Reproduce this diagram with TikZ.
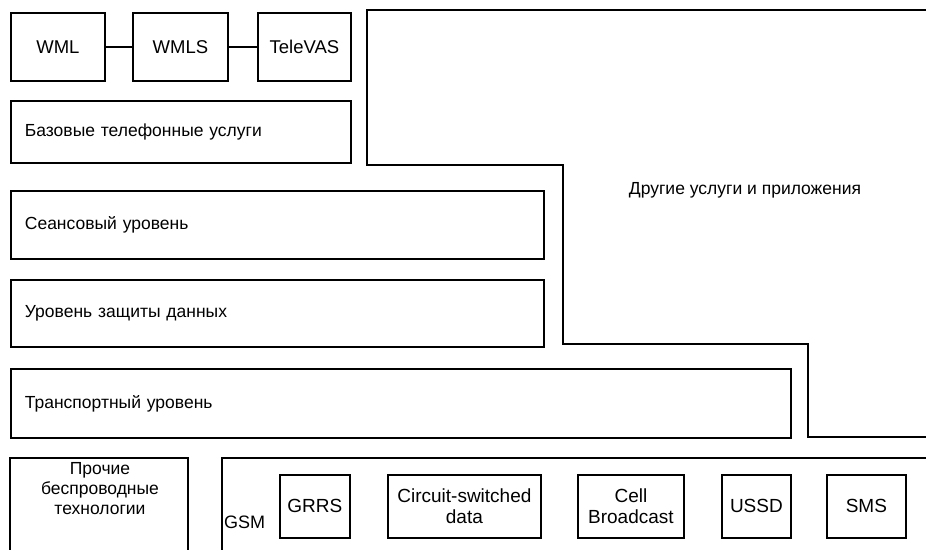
\documentclass[tikz,border=0pt]{standalone}
\usepackage{fontspec}
\setmainfont{Liberation Sans}
\begin{document}
\begin{tikzpicture}[x=1pt,y=-1pt,
  ln/.style={line width=1.8pt, line cap=rect},
  tbox/.style={draw, ln, inner sep=0pt, font=\fontsize{18.5}{20}\selectfont, anchor=north west},
  layer/.style={draw, ln, inner xsep=14pt, inner ysep=0pt, align=left, font=\fontsize{17.5}{20}\selectfont, anchor=north west},
  gbox/.style={draw, ln, inner sep=0pt, align=center, font=\fontsize{19}{21}\selectfont, anchor=north west, minimum height=63pt}
]
\useasboundingbox (0,0) rectangle (926,549);
% top row
\node[tbox, minimum width=94pt, minimum height=68pt] (wml) at (10,12) {WML};
\node[tbox, minimum width=95pt, minimum height=68pt] (wmls) at (132,12) {WMLS};
\node[tbox, minimum width=93pt, minimum height=68pt] (tele) at (257,12) {TeleVAS};
\draw[ln] (wml.east) -- (wmls.west);
\draw[ln] (wmls.east) -- (tele.west);
% layers
\node[layer, minimum width=340pt, minimum height=62pt, text width=312pt] (base) at (10,100) {Базовые телефонные услуги};
\node[layer, minimum width=533pt, minimum height=68pt, text width=505pt] (sess) at (10,190) {Сеансовый уровень};
\node[layer, minimum width=533pt, minimum height=67pt, text width=505pt] (sec) at (10,279) {Уровень защиты данных};
\node[layer, minimum width=780pt, minimum height=69pt, text width=752pt] (trans) at (10,368) {Транспортный уровень};
% other services
\draw[ln] (926,10) -- (367,10) -- (367,165) -- (563,165) -- (563,344) -- (808,344) -- (808,437) -- (926,437);
\node[font=\fontsize{17.5}{20}\selectfont] (other) at (745,190) {Другие услуги и приложения};
% bottom left
\draw[ln] (10,549) -- (10,458) -- (188,458) -- (188,549);
\node[align=center, anchor=north, inner sep=0pt, font=\fontsize{17.5}{20}\selectfont] (proch) at (100,462) {Прочие\\беспроводные\\технологии};
% GSM
\draw[ln] (222,549) -- (222,458) -- (926,458);
\node[anchor=west, inner sep=0pt, font=\fontsize{18}{20}\selectfont] (gsm) at (224,522) {GSM};
\node[gbox, minimum width=70pt] (grrs) at (279,474) {GRRS};
\node[gbox, minimum width=153pt] (csd) at (387,474) {Circuit-switched\\data};
\node[gbox, minimum width=106pt] (cell) at (577,474) {Cell\\Broadcast};
\node[gbox, minimum width=69pt] (ussd) at (721,474) {USSD};
\node[gbox, minimum width=79pt] (sms) at (826,474) {SMS};
\end{tikzpicture}
\end{document}
